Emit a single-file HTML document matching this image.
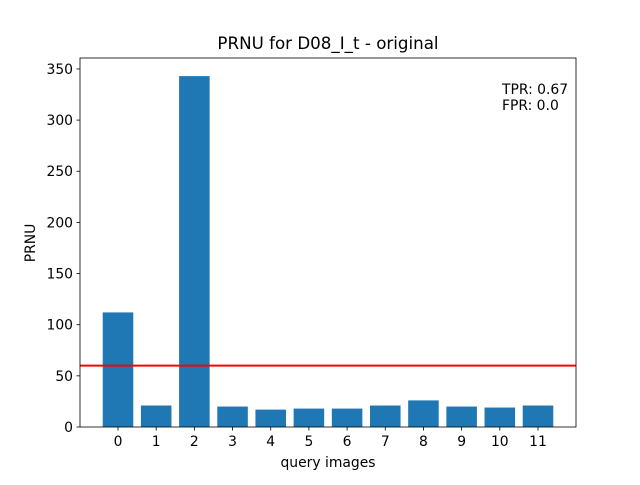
<!DOCTYPE html>
<html><head><meta charset="utf-8"><style>
body{margin:0;background:#fff;}
svg text{font-family:"DejaVu Sans","Liberation Sans",sans-serif;}
</style></head><body>
<svg id="chart" width="640" height="480" viewBox="0 0 640 480">
<rect width="640" height="480" fill="#fff"/>
<text x="328" y="49" font-size="16.7" text-anchor="middle">PRNU for D08_I_t - original</text>
<g id="bars"></g>
<g id="xticks"></g>
<g id="yticks"></g>
<line id="thresh" stroke="#ff0000" stroke-width="2.08"/>
<rect x="80" y="58" width="496" height="369" fill="none" stroke="#000" stroke-width="0.8"/>
<text x="328" y="467" font-size="13.9" text-anchor="middle">query images</text>
<text transform="translate(35,243) rotate(-90)" font-size="13.9" text-anchor="middle">PRNU</text>
<text x="502" y="94" font-size="13.9">TPR: 0.67</text>
<text x="502" y="110" font-size="13.9">FPR: 0.0</text>
</svg>
<script>
const categories=["0","1","2","3","4","5","6","7","8","9","10","11"];
const values=[112,21,343,20,17,18,18,21,26,20,19,21];
const yTicks=[0,50,100,150,200,250,300,350];
const threshold=60;
const L=80,R=576,T=58,B=427,xMin=-0.995,xMax=11.995,yMax=360.7;
const xs=v=>L+(v-xMin)/(xMax-xMin)*(R-L);
const ys=v=>B-v/yMax*(B-T);
const NS="http://www.w3.org/2000/svg";
const bars=document.getElementById('bars'),xt=document.getElementById('xticks'),yt=document.getElementById('yticks');
values.forEach((v,i)=>{
 const r=document.createElementNS(NS,'rect');
 r.setAttribute('x',xs(i-0.4));r.setAttribute('width',xs(i+0.4)-xs(i-0.4));
 r.setAttribute('y',ys(v));r.setAttribute('height',B-ys(v));r.setAttribute('fill','#1f77b4');
 
 
 bars.appendChild(r);
});
categories.forEach((c,i)=>{
 const l=document.createElementNS(NS,'line');
 l.setAttribute('x1',xs(i));l.setAttribute('x2',xs(i));l.setAttribute('y1',B);l.setAttribute('y2',B+3.5);l.setAttribute('stroke','#000');l.setAttribute('stroke-width','0.8');
 
 
 xt.appendChild(l);
 const t=document.createElementNS(NS,'text');
 t.setAttribute('x',xs(i));t.setAttribute('y',B+19);t.setAttribute('font-size','13.9');t.setAttribute('text-anchor','middle');t.textContent=c;
 
 
 xt.appendChild(t);
});
yTicks.forEach(v=>{
 const l=document.createElementNS(NS,'line');
 l.setAttribute('x1',L-3.5);l.setAttribute('x2',L);l.setAttribute('y1',ys(v));l.setAttribute('y2',ys(v));l.setAttribute('stroke','#000');l.setAttribute('stroke-width','0.8');
 
 
 yt.appendChild(l);
 const t=document.createElementNS(NS,'text');
 t.setAttribute('x',L-7);t.setAttribute('y',ys(v)+5);t.setAttribute('font-size','13.9');t.setAttribute('text-anchor','end');t.textContent=v;
 
 
 yt.appendChild(t);
});
const th=document.getElementById('thresh');
th.setAttribute('x1',L);th.setAttribute('x2',R);th.setAttribute('y1',ys(threshold));th.setAttribute('y2',ys(threshold));
</script>
</body></html>
